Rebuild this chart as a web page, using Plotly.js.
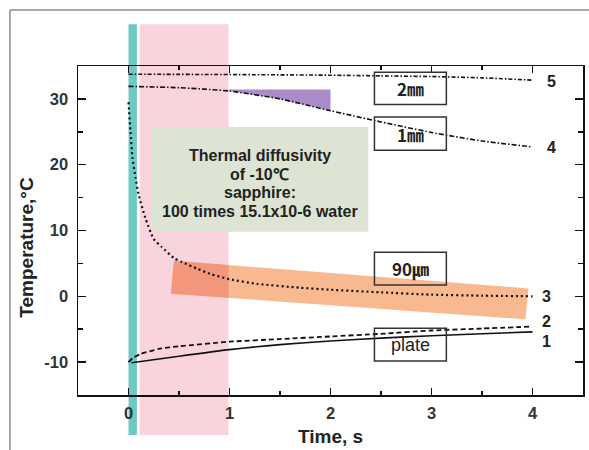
<!DOCTYPE html>
<html>
<head>
<meta charset="utf-8">
<script src="https://cdn.plot.ly/plotly-3.0.1.min.js"></script>
<style>html,body{margin:0;padding:0;background:#fff;}</style>
</head>
<body>
<div id="chart" style="width:589px;height:450px;"></div>
<script>
// ---- Data ----
const t1 = [0.03, 0.5, 1.0, 1.5, 2.0, 2.5, 3.0, 3.5, 4.0];
const plate = [-10.1, -9.1, -8.1, -7.35, -6.8, -6.35, -6.0, -5.7, -5.4];

const t2 = [0.0, 0.05, 0.115, 0.3, 0.5, 1.0, 1.5, 2.0, 2.5, 3.0, 3.5, 4.0];
const curve2 = [-10.0, -9.3, -8.8, -8.0, -7.6, -6.9, -6.5, -6.1, -5.7, -5.2, -4.9, -4.6];

const t3 = [0.0, 0.02, 0.04, 0.07, 0.1, 0.165, 0.25, 0.33, 0.45, 0.53, 0.68, 0.81, 1.0, 1.27, 1.7, 2.0, 2.5, 3.0, 3.5, 4.0];
const um90 = [29.5, 25.0, 21.0, 18.0, 15.5, 12.0, 8.7, 7.5, 5.8, 5.2, 4.2, 3.4, 2.6, 1.9, 1.3, 1.0, 0.6, 0.25, 0.1, 0.0];

const t4 = [0.0, 0.5, 1.0, 1.5, 2.0, 2.5, 3.0, 3.5, 4.0];
const mm1 = [31.9, 31.7, 31.2, 30.0, 28.2, 26.5, 24.9, 23.6, 22.7];

const t5 = [0.0, 1.0, 2.0, 2.5, 3.0, 3.5, 4.0];
const mm2 = [33.75, 33.7, 33.6, 33.5, 33.4, 33.2, 32.85];

const curveLabels = ['1', '2', '3', '4', '5'];
const boxLabels = ['2㎜', '1㎜', '90㎛', 'plate'];
const xTicks = [0, 1, 2, 3, 4];
const yTicks = [-10, 0, 10, 20, 30];
const noteLines = ['Thermal diffusivity', 'of -10℃', 'sapphire:', '100 times 15.1x10-6 water'];

// ---- Styles ----
const FONT = 'Liberation Sans, Arial, Helvetica, sans-serif';
const CJK = 'Noto Sans CJK JP, Liberation Sans, sans-serif';
const ink = '#111';

function line(x, y, dash, w, sm) {
  return {
    x: x, y: y, type: 'scatter', mode: 'lines', hoverinfo: 'skip',
    line: {color: ink, width: w, dash: dash, shape: 'spline', smoothing: sm},
    showlegend: false
  };
}

const traces = [
  line(t1, plate, 'solid', 1.6, 0.6),
  line(t2, curve2, '5px,3px', 1.8, 0.6),
  line(t3, um90, '2px,3px', 2.2, 0.6),
  line(t4, mm1, '5px,2px,1.5px,2px', 1.6, 0.5),
  line(t5, mm2, '4px,2px,1.5px,2px', 1.6, 0.5)
];

// purple wedge bounded by curve 4 between t=1 and t=2
const wedgePts = [];
for (let i = 0; i < t4.length; i++) if (t4[i] >= 1.0 && t4[i] <= 2.0) wedgePts.push([t4[i], mm1[i]]);
let wedge = 'M 0.99,31.43 L 2.0,31.43';
for (let i = wedgePts.length - 1; i >= 0; i--) wedge += ' L ' + wedgePts[i][0] + ',' + wedgePts[i][1];
wedge += ' Z';

const shapes = [
  // outer frame lines
  {type: 'line', xref: 'paper', yref: 'paper', x0: -0.1347, x1: 1.02, y0: 1.1702, y1: 1.1702, line: {color: '#8a8a8a', width: 1.5}},
  {type: 'line', xref: 'paper', yref: 'paper', x0: -0.1347, x1: -0.1347, y0: 1.1702, y1: -0.17, line: {color: '#8a8a8a', width: 1.5}},
  // cyan and pink bands
  {type: 'rect', layer: 'below', xref: 'x', yref: 'paper', x0: 0.0, x1: 0.083, y0: -0.1216, y1: 1.1267, fillcolor: '#6cc9c6', line: {width: 0}},
  {type: 'rect', layer: 'below', xref: 'x', yref: 'paper', x0: 0.11, x1: 0.99, y0: -0.1216, y1: 1.1267, fillcolor: '#f9d4dc', line: {width: 0}},
  // green note box
  {type: 'rect', layer: 'below', xref: 'x', yref: 'y', x0: 0.232, x1: 2.374, y0: 9.8, y1: 25.74, fillcolor: '#dde4d3', line: {width: 0}},
  // purple wedge
  {type: 'path', layer: 'below', xref: 'x', yref: 'y', path: wedge, fillcolor: '#a98cc8', line: {width: 0}},
  // orange band
  {type: 'path', layer: 'below', xref: 'x', yref: 'y', path: 'M 0.45,5.4 L 3.96,1.2 L 3.93,-3.5 L 0.42,0.4 Z', fillcolor: '#f8b991', line: {width: 0}},
  // orange band where it overlaps the pink band
  {type: 'path', layer: 'below', xref: 'x', yref: 'y', path: 'M 0.45,5.4 L 0.99,4.75 L 0.99,-0.23 L 0.42,0.4 Z', fillcolor: '#f2977c', line: {width: 0}},
  // label boxes
  {type: 'rect', xref: 'x', yref: 'y', x0: 2.435, x1: 3.147, y0: 29.15, y1: 34.06, line: {color: '#333', width: 1.5}},
  {type: 'rect', xref: 'x', yref: 'y', x0: 2.435, x1: 3.147, y0: 22.2, y1: 27.26, line: {color: '#333', width: 1.5}},
  {type: 'rect', xref: 'x', yref: 'y', x0: 2.435, x1: 3.147, y0: 1.73, y1: 6.69, line: {color: '#333', width: 1.5}},
  {type: 'rect', xref: 'x', yref: 'y', x0: 2.435, x1: 3.147, y0: -9.82, y1: -4.86, line: {color: '#333', width: 1.5}}
];

const ends = [plate[plate.length - 1], curve2[curve2.length - 1], um90[um90.length - 1], mm1[mm1.length - 1], mm2[mm2.length - 1]];
const labelDx = [4.135, 4.135, 4.135, 4.185, 4.185];
const labelDy = [-1.4, 0.7, 0.0, -0.1, -0.18];

const annotations = [];
for (let i = 0; i < curveLabels.length; i++) {
  annotations.push({
    x: labelDx[i], y: ends[i] + labelDy[i], xref: 'x', yref: 'y', text: curveLabels[i],
    showarrow: false, xanchor: 'center', yanchor: 'middle',
    font: {family: FONT, size: 16, color: '#222', weight: 700}
  });
}
const boxY = [31.6, 24.65, 4.2, -7.35];
for (let i = 0; i < boxLabels.length; i++) {
  const isPlate = boxLabels[i] === 'plate';
  annotations.push({
    x: 2.79, y: boxY[i], xref: 'x', yref: 'y', text: boxLabels[i], showarrow: false,
    xanchor: 'center', yanchor: 'middle',
    font: {family: isPlate ? FONT : CJK, size: isPlate ? 18 : 17, color: '#222', weight: isPlate ? 400 : 700}
  });
}
const noteY = [21.43, 18.55, 15.76, 12.96];
for (let i = 0; i < noteLines.length; i++) {
  annotations.push({
    x: 1.30, y: noteY[i], xref: 'x', yref: 'y', text: noteLines[i], showarrow: false,
    xanchor: 'center', yanchor: 'middle',
    font: {family: FONT, size: 16, color: '#222', weight: 700}
  });
}
// axis titles
annotations.push({
  x: 0.5, y: -0.126, xref: 'paper', yref: 'paper', text: 'Time, s', showarrow: false,
  xanchor: 'center', yanchor: 'middle', font: {family: FONT, size: 19, color: '#222', weight: 700}
});
annotations.push({
  x: -0.1016, y: 0.45, xref: 'paper', yref: 'paper', text: 'Temperature,°C', showarrow: false,
  textangle: -90, xanchor: 'center', yanchor: 'middle', font: {family: FONT, size: 19, color: '#222', weight: 700}
});

const axisCommon = {
  showgrid: false, zeroline: false, showline: true, linecolor: ink, linewidth: 1.5,
  ticks: 'inside', ticklen: 7, tickwidth: 1.5, tickcolor: ink, mirror: 'ticks',
  tickfont: {family: FONT, size: 16.5, color: '#333', weight: 700}
};

const layout = {
  width: 589, height: 450,
  margin: {l: 78, r: 6, t: 66, b: 55},
  paper_bgcolor: '#fff', plot_bgcolor: 'rgba(0,0,0,0)',
  showlegend: false,
  xaxis: Object.assign({}, axisCommon, {
    range: [-0.5, 4.5], tickvals: xTicks, ticktext: xTicks.map(String), ticklabelstandoff: 3,
    minor: {dtick: 0.5, tick0: 0, ticks: 'inside', ticklen: 4, tickwidth: 1.5, tickcolor: ink}
  }),
  yaxis: Object.assign({}, axisCommon, {
    range: [-15, 35], tickvals: yTicks, ticktext: yTicks.map(String), ticklabelstandoff: 5,
    ticklen: 8,
    minor: {dtick: 5, tick0: 0, ticks: 'inside', ticklen: 5, tickwidth: 1.5, tickcolor: ink}
  }),
  shapes: shapes,
  annotations: annotations
};

Plotly.newPlot('chart', traces, layout, {staticPlot: true, displayModeBar: false});
</script>
</body>
</html>
